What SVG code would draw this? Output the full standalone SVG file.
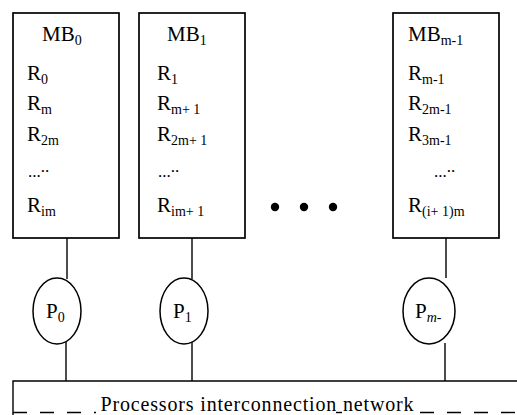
<svg xmlns="http://www.w3.org/2000/svg" width="517" height="415" viewBox="0 0 517 415">
  <style>
    .box { fill: #fff; stroke: #000; stroke-width: 1.7; }
    .proc { fill: #fff; stroke: #000; stroke-width: 1.5; }
    .wire { stroke: #000; stroke-width: 1.4; fill: none; }
    .lbl { font-family: "Liberation Serif", "Times New Roman", serif; font-size: 21px; fill: #000; }
    .sub { font-size: 14px; }
    .dots { font-family: "Liberation Serif", serif; font-size: 17px; fill: #000; }
    .net { font-family: "Liberation Serif", "Times New Roman", serif; font-size: 20px; fill: #000; }
  </style>
  <rect width="517" height="415" fill="#fff"/>

  <!-- memory blocks -->
  <g id="mb0">
    <rect class="box" x="13" y="13" width="106" height="225"/>
    <text class="lbl" x="42" y="41">MB<tspan class="sub" dy="4">0</tspan></text>
    <text class="lbl" x="27" y="80">R<tspan class="sub" dy="4">0</tspan></text>
    <text class="lbl" x="27" y="110">R<tspan class="sub" dy="4">m</tspan></text>
    <text class="lbl" x="27" y="141">R<tspan class="sub" dy="4">2m</tspan></text>
    <text class="dots" x="28" y="177">...<tspan dy="-5">..</tspan></text>
    <text class="lbl" x="27" y="212">R<tspan class="sub" dy="4">im</tspan></text>
  </g>

  <g id="mb1">
    <rect class="box" x="139" y="13" width="106" height="225"/>
    <text class="lbl" x="167" y="41">MB<tspan class="sub" dy="4">1</tspan></text>
    <text class="lbl" x="157" y="80">R<tspan class="sub" dy="4">1</tspan></text>
    <text class="lbl" x="157" y="110">R<tspan class="sub" dy="4">m+ 1</tspan></text>
    <text class="lbl" x="157" y="141">R<tspan class="sub" dy="4">2m+ 1</tspan></text>
    <text class="dots" x="158" y="177">...<tspan dy="-5">..</tspan></text>
    <text class="lbl" x="157" y="212">R<tspan class="sub" dy="4">im+ 1</tspan></text>
  </g>

  <g id="ellipsis">
    <circle cx="275" cy="207" r="4.2"/>
    <circle cx="304" cy="207" r="4.2"/>
    <circle cx="333" cy="207" r="4.2"/>
  </g>

  <g id="mbm1">
    <rect class="box" x="393" y="13" width="106" height="225"/>
    <text class="lbl" x="408" y="41">MB<tspan class="sub" dy="4">m-1</tspan></text>
    <text class="lbl" x="408" y="80">R<tspan class="sub" dy="4">m-1</tspan></text>
    <text class="lbl" x="408" y="110">R<tspan class="sub" dy="4">2m-1</tspan></text>
    <text class="lbl" x="408" y="141">R<tspan class="sub" dy="4">3m-1</tspan></text>
    <text class="dots" x="434" y="177">...<tspan dy="-5">..</tspan></text>
    <text class="lbl" x="408" y="212">R<tspan class="sub" dy="4">(i+ 1)m</tspan></text>
  </g>

  <!-- links: memory block -> processor -> network -->
  <g id="connectors">
    <line class="wire" x1="67" y1="238" x2="67" y2="279"/>
    <line class="wire" x1="66" y1="342" x2="66" y2="381"/>
    <line class="wire" x1="192" y1="238" x2="192" y2="279"/>
    <line class="wire" x1="192" y1="342" x2="192" y2="381"/>
    <line class="wire" x1="446" y1="238" x2="446" y2="278"/>
    <line class="wire" x1="445" y1="343" x2="445" y2="381"/>
  </g>

  <!-- processors -->
  <g id="p0">
    <ellipse class="proc" cx="57" cy="311" rx="24" ry="33"/>
    <text class="lbl" x="46" y="318">P<tspan class="sub" dy="4">0</tspan></text>
  </g>
  <g id="p1">
    <ellipse class="proc" cx="184" cy="311" rx="24" ry="33"/>
    <text class="lbl" x="173" y="318">P<tspan class="sub" dy="4">1</tspan></text>
  </g>
  <g id="pm">
    <ellipse class="proc" cx="429" cy="311" rx="26" ry="33"/>
    <text class="lbl" x="415" y="318">P<tspan class="sub" dy="4" font-style="italic">m</tspan><tspan class="sub">-</tspan></text>
  </g>

  <!-- interconnection network -->
  <g id="network">
    <path class="wire" d="M13 416 V381 H518" stroke-width="1.7"/>
    <line class="wire" x1="13" y1="412.5" x2="96" y2="412.5" stroke-dasharray="14 13" stroke-width="1.2"/>
    <line class="wire" x1="336" y1="412.5" x2="342" y2="412.5" stroke-width="1.2"/>
    <line class="wire" x1="420" y1="412.5" x2="517" y2="412.5" stroke-dasharray="14 13" stroke-width="1.2"/>
    <text class="net" x="257" y="411" text-anchor="middle" textLength="313" lengthAdjust="spacing">Processors interconnection network</text>
  </g>
</svg>
